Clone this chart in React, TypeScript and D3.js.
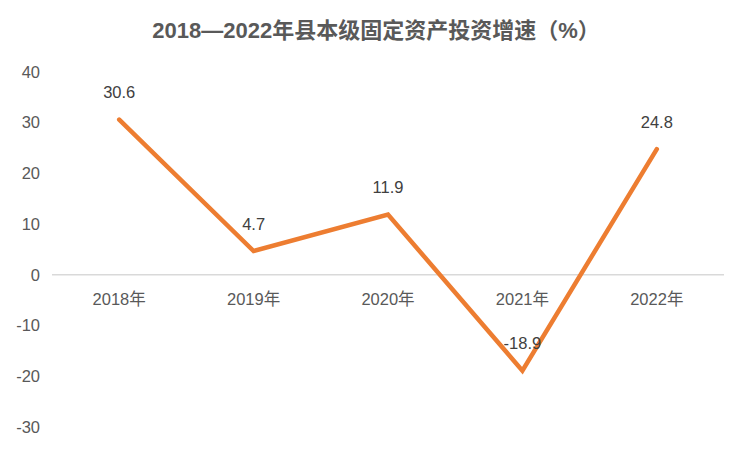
import React, { useEffect, useRef } from 'react';
import * as d3 from 'd3';

const years = ['2018年', '2019年', '2020年', '2021年', '2022年'];
const growth = [30.6, 4.7, 11.9, -18.9, 24.8];
const yTicks = [40, 30, 20, 10, 0, -10, -20, -30];
const title = '2018—2022年县本级固定资产投资增速（%）';

const App: React.FC = () => {
  const ref = useRef<SVGSVGElement>(null);

  useEffect(() => {
    const svg = d3.select(ref.current);
    svg.selectAll('*').remove();

    const width = 751;
    const height = 451;
    const font = '"Liberation Sans", "Noto Sans CJK SC", sans-serif';

    const x = d3.scaleBand<string>()
      .domain(years)
      .range([52, 724]);

    const y = d3.scaleLinear()
      .domain([-30, 40])
      .range([427, 72]);

    svg.append('rect')
      .attr('width', width)
      .attr('height', height)
      .attr('fill', '#fff');

    svg.append('text')
      .attr('x', 376)
      .attr('y', 38)
      .attr('text-anchor', 'middle')
      .attr('font-family', font)
      .attr('font-size', 22)
      .attr('font-weight', 'bold')
      .attr('fill', '#595959')
      .text(title);

    // y labels
    svg.selectAll('text.ytick')
      .data(yTicks)
      .enter()
      .append('text')
      .attr('class', 'ytick')
      .attr('x', 40)
      .attr('y', d => y(d))
      .attr('dy', '0.35em')
      .attr('text-anchor', 'end')
      .attr('font-family', font)
      .attr('font-size', 16.5)
      .attr('fill', '#595959')
      .text(d => d);

    // zero line
    svg.append('line')
      .attr('x1', 52)
      .attr('x2', 724)
      .attr('y1', y(0))
      .attr('y2', y(0))
      .attr('stroke', '#d9d9d9')
      .attr('stroke-width', 1.5);

    // category labels
    svg.selectAll('text.xtick')
      .data(years)
      .enter()
      .append('text')
      .attr('class', 'xtick')
      .attr('x', d => (x(d) as number) + x.bandwidth() / 2)
      .attr('y', y(0) + 24)
      .attr('dy', '0.35em')
      .attr('text-anchor', 'middle')
      .attr('font-family', font)
      .attr('font-size', 16.5)
      .attr('fill', '#595959')
      .text(d => d);

    const cx = (i: number) => (x(years[i]) as number) + x.bandwidth() / 2;

    const line = d3.line<number>()
      .x((_, i) => cx(i))
      .y(d => y(d));

    svg.append('path')
      .datum(growth)
      .attr('d', line)
      .attr('fill', 'none')
      .attr('stroke', '#ed7d31')
      .attr('stroke-width', 4.5)
      .attr('stroke-linejoin', 'miter')
      .attr('stroke-linecap', 'round');

    svg.selectAll('text.val')
      .data(growth)
      .enter()
      .append('text')
      .attr('class', 'val')
      .attr('x', (_, i) => cx(i))
      .attr('y', d => y(d) - 27)
      .attr('dy', '0.35em')
      .attr('text-anchor', 'middle')
      .attr('font-family', font)
      .attr('font-size', 16.5)
      .attr('fill', '#404040')
      .text(d => d);
  }, []);

  return (
    <svg
      ref={ref}
      width={751}
      height={451}
      style={{ position: 'absolute', left: 0, top: 0 }}
    />
  );
};

export default App;
